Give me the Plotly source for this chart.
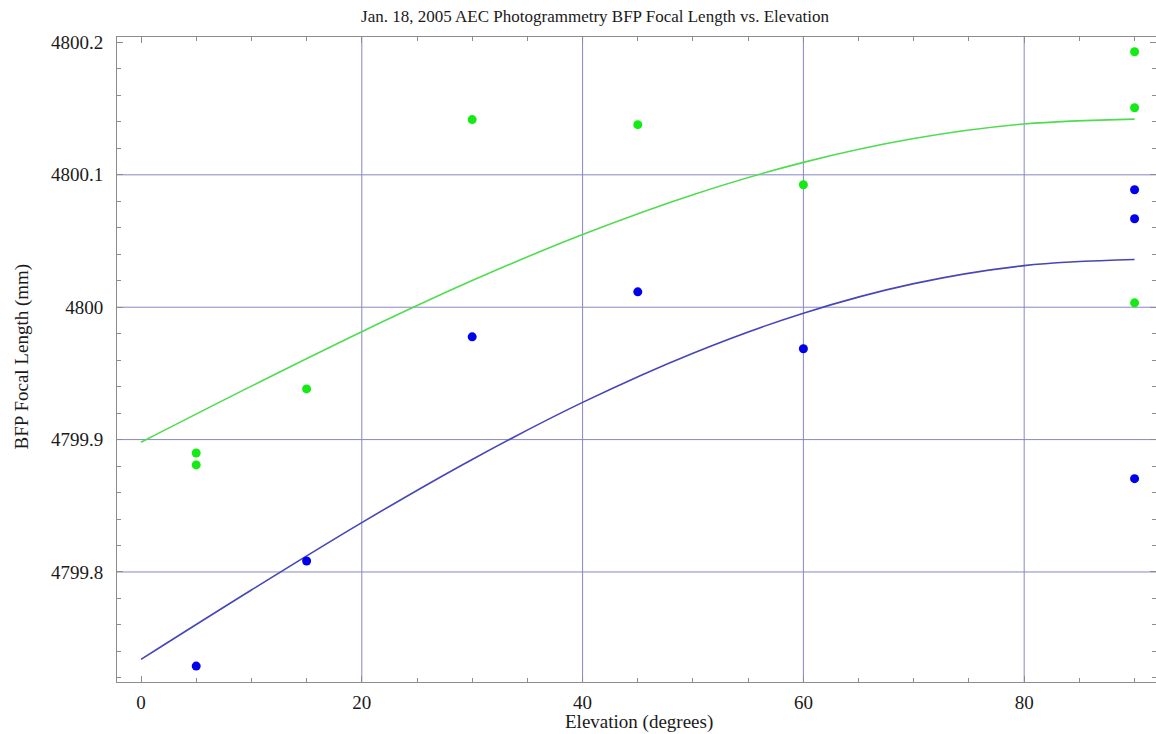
import plotly.graph_objects as go

# ---- data ----
elev_blue = [5, 15, 30, 45, 60, 90, 90, 90]
focal_blue = [4799.7289, 4799.8083, 4799.9776, 4800.0116, 4799.9686, 4800.0887, 4800.0668, 4799.8705]

elev_green = [5, 5, 15, 30, 45, 60, 90, 90, 90]
focal_green = [4799.8899, 4799.8809, 4799.9383, 4800.1417, 4800.1379, 4800.0925, 4800.1930, 4800.1507, 4800.0033]

# fitted curves
fit_elev = [0, 10, 20, 30, 40, 50, 60, 70, 80, 90]
fit_blue = [4799.734, 4799.7864, 4799.8373, 4799.885, 4799.9281, 4799.9653, 4799.9955, 4800.0178, 4800.0314, 4800.036]
fit_green = [4799.898, 4799.9404, 4799.9815, 4800.0201, 4800.0549, 4800.085, 4800.1094, 4800.1274, 4800.1384, 4800.1421]

x_ticks = [0, 20, 40, 60, 80]
x_tick_text = ["0", "20", "40", "60", "80"]
y_ticks = [4799.8, 4799.9, 4800.0, 4800.1, 4800.2]
y_tick_text = ["4799.8", "4799.9", "4800", "4800.1", "4800.2"]
grid_x = [20, 40, 60, 80]
grid_y = [4799.8, 4799.9, 4800.0, 4800.1]

title = "Jan. 18, 2005 AEC Photogrammetry BFP Focal Length vs. Elevation"
x_title = "Elevation (degrees)"
y_title = "BFP Focal Length (mm)"

FONT = "Liberation Serif, Times New Roman, serif"
GRID_COLOR = "rgb(135,135,195)"
FRAME_COLOR = "rgb(140,140,140)"
TEXT_COLOR = "#1a1a1a"

fig = go.Figure()
fig.add_trace(go.Scatter(x=fit_elev, y=fit_green, mode="lines", line_shape="spline",
                         line=dict(color="rgb(80,220,80)", width=1.6), hoverinfo="skip"))
fig.add_trace(go.Scatter(x=fit_elev, y=fit_blue, mode="lines", line_shape="spline",
                         line=dict(color="rgb(70,70,185)", width=1.6), hoverinfo="skip"))
fig.add_trace(go.Scatter(x=elev_green, y=focal_green, mode="markers",
                         marker=dict(color="rgb(20,235,20)", size=9, line=dict(width=0))))
fig.add_trace(go.Scatter(x=elev_blue, y=focal_blue, mode="markers",
                         marker=dict(color="rgb(0,0,235)", size=9, line=dict(width=0))))

for gx in grid_x:
    fig.add_shape(type="line", xref="x", yref="paper", x0=gx, x1=gx, y0=0, y1=1,
                  line=dict(color=GRID_COLOR, width=1), layer="below")
for gy in grid_y:
    fig.add_shape(type="line", xref="paper", yref="y", x0=0, x1=1, y0=gy, y1=gy,
                  line=dict(color=GRID_COLOR, width=1), layer="below")

fig.update_layout(
    width=1156, height=734,
    margin=dict(l=117, r=0, t=37, b=52),
    paper_bgcolor="white", plot_bgcolor="white",
    showlegend=False,
    font=dict(family=FONT, color=TEXT_COLOR),
    title=dict(text=title, font=dict(family=FONT, size=17, color=TEXT_COLOR),
               xref="container", x=595 / 1156, xanchor="center",
               yref="container", y=1 - 16 / 734, yanchor="middle"),
)
fig.update_xaxes(
    range=[-2.174, 91.94], tickvals=x_ticks, ticktext=x_tick_text,
    showgrid=False, zeroline=False,
    showline=True, linecolor=FRAME_COLOR, linewidth=1, mirror="ticks",
    ticks="inside", ticklen=6, tickcolor=FRAME_COLOR, ticklabelstandoff=3,
    tickfont=dict(family=FONT, size=19, color=TEXT_COLOR),
    minor=dict(dtick=5, tick0=0, ticks="inside", ticklen=4, tickcolor=FRAME_COLOR, showgrid=False),
)
fig.update_yaxes(
    range=[4799.7169, 4800.2041], tickvals=y_ticks, ticktext=y_tick_text,
    showgrid=False, zeroline=False,
    showline=True, linecolor=FRAME_COLOR, linewidth=1, mirror="ticks",
    ticks="inside", ticklen=6, tickcolor=FRAME_COLOR, ticklabelstandoff=9,
    tickfont=dict(family=FONT, size=19, color=TEXT_COLOR),
    minor=dict(dtick=0.02, tick0=4799.8, ticks="inside", ticklen=4, tickcolor=FRAME_COLOR, showgrid=False),
)

fig.add_annotation(text=x_title, xref="paper", yref="paper", x=(639 - 117) / 1039, y=0,
                   xanchor="center", yanchor="middle", yshift=-40, showarrow=False,
                   font=dict(family=FONT, size=19, color=TEXT_COLOR))
fig.add_annotation(text=y_title, xref="paper", yref="paper", x=0, y=0.5047,
                   xanchor="center", yanchor="middle", xshift=-95, textangle=-90,
                   showarrow=False, font=dict(family=FONT, size=19, color=TEXT_COLOR))

fig.write_html("out.html")
